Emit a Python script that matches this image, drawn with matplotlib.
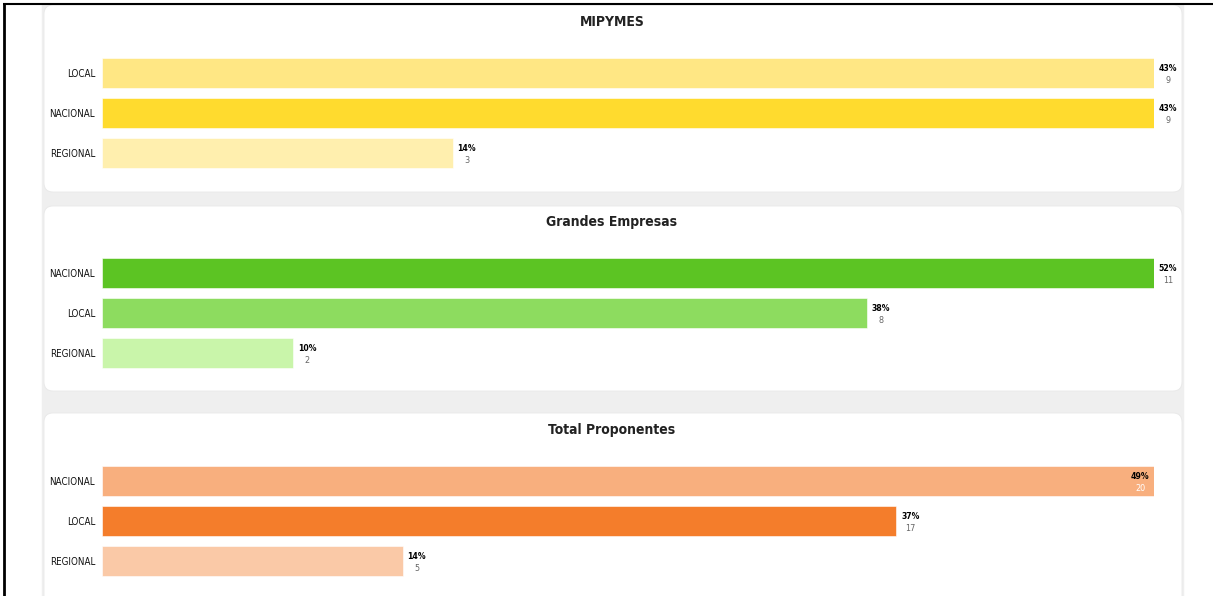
import matplotlib.pyplot as plt
from matplotlib.patches import FancyBboxPatch, Rectangle

W, H = 1215, 596
plt.rcParams['font.family'] = ['DejaVu Sans']
plt.rcParams['font.stretch'] = 'condensed'

titles = ["MIPYMES", "Grandes Empresas", "Total Proponentes"]
categories = [
    ["LOCAL", "NACIONAL", "REGIONAL"],
    ["NACIONAL", "LOCAL", "REGIONAL"],
    ["NACIONAL", "LOCAL", "REGIONAL"],
]
percents = [
    [42.86, 42.86, 14.29],
    [52.38, 38.10, 9.52],
    [49, 37, 14],
]
counts = [
    [9, 9, 3],
    [11, 8, 2],
    [20, 17, 5],
]
colors = [
    ["#FFE784", "#FFDB2E", "#FFEFAE"],
    ["#5CC423", "#8DDC5F", "#C9F5AA"],
    ["#F8AF7E", "#F47D2B", "#FAC9A7"],
]
label_inside = {"Total Proponentes": "NACIONAL"}

fig = plt.figure(figsize=(W / 100, H / 100), dpi=100)
bg = fig.add_axes([0, 0, 1, 1])
bg.set_xlim(0, W)
bg.set_ylim(H, 0)
bg.axis('off')

# grey panel behind cards
bg.add_patch(Rectangle((42, 4), 1141, 600, color="#efefef", zorder=0))
cards = [(5, 192), (206, 391), (413, 610)]
for top, bot in cards:
    bg.add_patch(FancyBboxPatch((44, top), 1138, bot - top,
                                boxstyle="round,pad=0,rounding_size=9",
                                facecolor="white", edgecolor="#e8e8e8", lw=0.6, zorder=1))

# frame lines
bg.plot([4, 4], [3, H], color="black", lw=2, zorder=5, solid_capstyle="butt")
bg.plot([3, 1213], [3.5, 3.5], color="black", lw=1.5, zorder=5, solid_capstyle="butt")

title_y = [22, 222, 430]
first_bar = [73, 273, 481]
x0, x1 = 102, 1154

for i, title in enumerate(titles):
    bg.text(612, title_y[i], title, ha="center", va="center",
            fontsize=10, fontweight="bold", color="#222222", zorder=3)
    top = first_bar[i] - 20
    ax = fig.add_axes([x0 / W, 1 - (top + 120) / H, (x1 - x0) / W, 120 / H])
    ax.set_zorder(2)
    ax.patch.set_visible(False)
    vals = percents[i]
    ypos = range(len(vals))
    ax.barh(ypos, vals, height=0.75, color=colors[i], edgecolor="white", lw=0.4)
    ax.set_xlim(0, max(vals))
    ax.set_ylim(2.5, -0.5)
    ax.set_yticks(list(ypos))
    ax.set_yticklabels(categories[i], fontsize=7, color="#111111")
    ax.tick_params(axis="y", length=0, pad=5)
    ax.set_xticks([])
    for s in ax.spines.values():
        s.set_visible(False)
    for j, v in enumerate(vals):
        inside = label_inside.get(title) == categories[i][j]
        if inside:
            x_off, ccol = -14, "white"
        else:
            x_off, ccol = 14, "#666666"
        ax.annotate(f"{round(v)}%", (v, j), xytext=(x_off, 4.5), textcoords="offset pixels",
                    ha="center", va="center", fontsize=6.2, fontweight="bold", color="black")
        ax.annotate(str(counts[i][j]), (v, j), xytext=(x_off, -7.5), textcoords="offset pixels",
                    ha="center", va="center", fontsize=6.5, color=ccol)

fig.savefig("out.png", dpi=100)
